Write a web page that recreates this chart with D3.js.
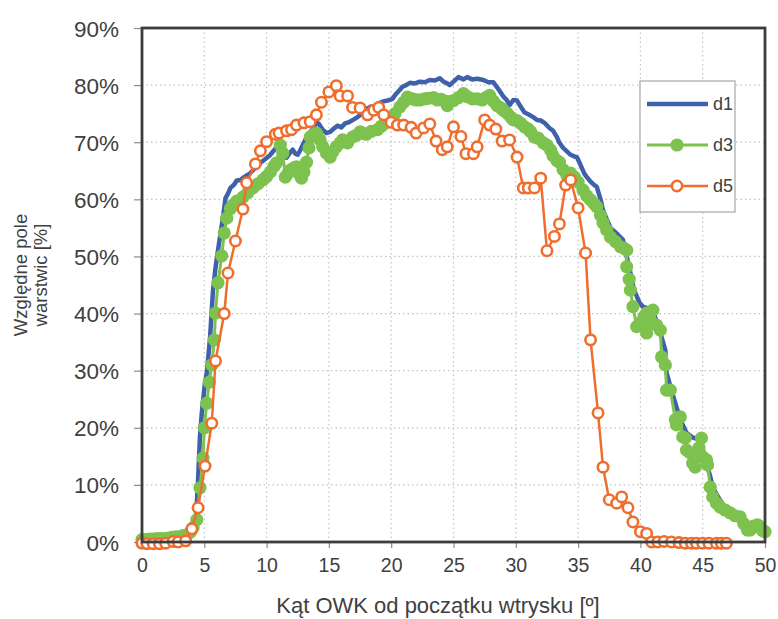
<!DOCTYPE html>
<html>
<head>
<meta charset="utf-8">
<script src="https://cdn.jsdelivr.net/npm/d3@7"></script>
<style>
    body { margin: 0; background: #fff; }
    svg text { font-family: "Liberation Sans", Arial, sans-serif; }
</style>
</head>
<body>
<svg id="chart" width="778" height="619"></svg>
<script>
// DATA
// Angle in degrees and relative area in percent.
var x_ticks = [0, 5, 10, 15, 20, 25, 30, 35, 40, 45, 50];
var y_ticks = [0, 10, 20, 30, 40, 50, 60, 70, 80, 90];
var series_names = ['d1', 'd3', 'd5'];

var d1_angle = [0, 0.5, 1, 1.5, 2, 2.5, 3, 3.5, 4, 4.3, 4.5, 4.65, 4.8, 5.05, 5.2, 5.45, 5.7, 5.9, 6.1, 6.3,
    6.5, 6.7, 6.9, 7.1, 7.4, 7.6, 7.9, 8.2, 8.5, 8.7, 9, 9.3, 9.5, 9.8, 10.1, 10.3, 10.6, 10.8, 11, 11.2,
    11.4, 11.6, 11.9, 12.1, 12.3, 12.5, 12.7, 12.9, 13.2, 13.5, 13.8, 14, 14.2, 14.5, 14.8, 15.1, 15.4, 15.7, 16, 16.3,
    16.6, 17, 17.3, 17.7, 18, 18.3, 18.7, 19, 19.3, 19.7, 20.1, 20.4, 20.7, 20.9, 21.2, 21.5, 21.9, 22.3, 22.7, 23.1,
    23.5, 23.9, 24.2, 24.5, 24.7, 25, 25.4, 25.8, 26.1, 26.5, 26.9, 27.4, 27.8, 28.2, 28.6, 29, 29.3, 29.5, 29.8, 30.1,
    30.4, 30.7, 31, 31.4, 31.7, 32, 32.3, 32.7, 33, 33.3, 33.5, 33.8, 34.1, 34.4, 34.7, 34.9, 35.2, 35.5, 35.7, 36,
    36.3, 36.5, 36.8, 37, 37.3, 37.6, 37.8, 38.2, 38.6, 38.9, 39.2, 39.4, 39.6, 39.9, 40.2, 40.6, 41, 41.3, 41.6, 42,
    42.1, 42.5, 42.9, 43.3, 43.7, 44.2, 44.8, 45.1, 45.3, 45.6, 45.8, 46.2, 46.6, 47, 47.5, 48, 48.5, 49, 49.5, 50];
var d1_value = [0.3, 0.2, 0.4, 0.3, 0.5, 0.4, 0.6, 0.7, 1.2, 2.6, 10.9, 18.4, 22.6, 27.8, 29.6, 35.4, 44.1, 48, 51.1, 54,
    56.9, 60.2, 61, 62, 62.6, 63.3, 63.4, 63.9, 64.3, 64.6, 65.3, 65.8, 66.4, 66.9, 67.4, 67.8, 68.6, 69.2, 69.6, 69.9,
    68.5, 67.3, 68.2, 68.7, 68, 67.8, 68.6, 69.5, 70.8, 71.8, 72.6, 73.5, 73.2, 72.2, 71.6, 71.8, 72.4, 72.9, 72.6, 73.3,
    73.5, 74, 74.4, 75.1, 75.8, 76.2, 76.3, 76.8, 77.1, 77.3, 77.6, 78.5, 79.2, 79.7, 80, 80.4, 80.3, 80.6, 80.5, 80.9,
    80.8, 81.2, 80.6, 80.3, 80, 80.6, 81.4, 81, 81.4, 81, 81.1, 80.9, 80.5, 80.5, 79.3, 78, 77.3, 76.5, 77.4, 77.3,
    76.2, 75.2, 74.9, 74.4, 73.9, 73.8, 73.4, 72.5, 72, 70.9, 69.9, 69, 68.4, 67.8, 67.5, 67.4, 66, 64.5, 63.9, 63.1,
    62.5, 62.2, 60, 58.1, 56.5, 55, 54.6, 53.8, 52.9, 50, 47.1, 45, 43.6, 42, 41.2, 40.9, 40.6, 38.5, 36.6, 33.6,
    29.6, 26.5, 23.6, 21, 19.1, 18.3, 17.9, 15.5, 13.8, 11.5, 9.6, 8, 6.6, 5.6, 4.7, 3.9, 3.4, 3, 2.5, 2.1];

var d3_angle = [0, 0.3, 0.6, 0.9, 1.2, 1.5, 1.8, 2.1, 2.4, 2.7, 3, 3.3, 3.6, 3.9, 4.1, 4.4, 4.65, 4.9, 5, 5.2,
    5.4, 5.6, 5.8, 5.9, 6.1, 6.4, 6.6, 6.8, 7.1, 7.3, 7.6, 8.1, 8.5, 8.9, 9.3, 9.7, 10, 10.3, 10.6, 10.8,
    11.1, 11.3, 11.5, 11.7, 11.9, 12.2, 12.4, 12.6, 12.8, 13, 13.2, 13.4, 13.5, 13.8, 14, 14.3, 14.5, 14.8, 15.1, 15.3,
    15.6, 15.9, 16.1, 16.5, 16.9, 17.2, 17.5, 17.7, 18, 18.4, 18.9, 19.2, 19.5, 19.9, 20.3, 20.7, 21, 21.3, 21.7, 22,
    22.3, 22.7, 23, 23.4, 23.7, 24, 24.3, 24.5, 24.7, 25, 25.4, 25.8, 26.1, 26.5, 26.9, 27.3, 27.6, 27.9, 28.2, 28.5,
    28.8, 29, 29.3, 29.6, 29.8, 30.1, 30.4, 30.7, 31, 31.2, 31.5, 31.8, 32.2, 32.5, 32.8, 33, 33.3, 33.5, 33.8, 34.1,
    34.4, 34.7, 35, 35.4, 35.7, 36, 36.3, 36.5, 36.8, 37, 37.3, 37.6, 38, 38.4, 38.7, 38.9, 38.9, 39.1, 39.2, 39.4,
    39.7, 40, 40.3, 40.5, 40.5, 40.8, 41, 41.3, 41.6, 41.7, 42, 42.1, 42.4, 42.8, 42.9, 43.2, 43.4, 43.6, 43.7, 44,
    44.2, 44.4, 44.7, 44.9, 45, 45.3, 45.4, 45.6, 45.8, 46.1, 46.4, 46.8, 47.2, 47.6, 48, 48.3, 48.6, 48.8, 49.1, 49.4,
    49.6, 49.8, 50];
var d3_value = [0.4, 0.4, 0.5, 0.5, 0.6, 0.6, 0.6, 0.7, 0.8, 0.9, 0.9, 1.1, 1.2, 1.8, 2.5, 3.9, 9.5, 14.7, 20, 24.3,
    28, 31, 35.4, 40.1, 45.4, 50.1, 54.1, 56.7, 58.4, 59, 59.7, 60.4, 61.2, 62, 62.7, 63.4, 64, 64.8, 65.8, 66.4,
    69.5, 68.1, 63.9, 64.5, 65.1, 65.5, 65.7, 64.5, 63.7, 64.8, 66.5, 69, 70.9, 71.4, 71.6, 70.4, 69.2, 68.1, 67.4, 68.3,
    69.2, 69.9, 70.4, 69.9, 70.9, 71.2, 71.8, 71.6, 71.4, 71.9, 72.2, 72.8, 73.3, 73.9, 75, 76.2, 77, 77.9, 77.6, 77.4,
    77.4, 77.6, 77.7, 77.8, 77.4, 77.5, 77.2, 76.4, 77.1, 77.3, 77.8, 78.5, 78, 77.6, 77.6, 77.4, 77.8, 78.2, 77.2, 76.4,
    76, 75.6, 75.1, 74.4, 73.9, 73.8, 73.3, 72.7, 72.3, 71.8, 70.9, 70.7, 69.9, 69.5, 68.6, 67.6, 66.8, 66.5, 65.2, 64.2,
    64.6, 63.9, 63, 61.6, 60.6, 59.9, 59.2, 58.7, 57.2, 55.9, 54.6, 53.4, 52.6, 51.7, 51.4, 51.1, 48.2, 46, 44.1, 41.2,
    37.7, 38.4, 39.5, 40.1, 36.6, 38.3, 40.6, 38, 37.1, 32.4, 31, 26.6, 26.6, 21.4, 20.5, 21.9, 18.4, 18.2, 16.1, 15.6,
    13.8, 13.1, 16.5, 18.2, 14.9, 14.4, 13.5, 9.6, 7.9, 6.8, 6.1, 5.6, 5.1, 4.6, 4.4, 3.2, 2.1, 2.1, 2.8, 3,
    2.6, 2, 1.8];

var d5_angle = [0, 0.4, 0.9, 1.4, 1.9, 2.5, 2.9, 3.5, 4, 4.5, 5.06, 5.6, 5.9, 6.6, 6.9, 7.5, 8.1, 8.4, 9.1, 9.5,
    10, 10.7, 11, 11.6, 12, 12.4, 13, 13.5, 14, 14.4, 15, 15.6, 15.9, 16.5, 16.9, 17.5, 18.1, 18.6, 19, 19.4,
    20, 20.5, 21, 21.6, 22, 22.6, 23.1, 23.6, 24.1, 24.5, 25, 25.6, 26, 26.6, 26.9, 27.5, 27.9, 28.4, 28.9, 29.5,
    30.1, 30.6, 31, 31.5, 32, 32.5, 33.1, 33.5, 34, 34.4, 35, 35.6, 36, 36.6, 37, 37.5, 38.1, 38.5, 39, 39.4,
    40, 40.5, 40.9, 41.4, 41.9, 42.5, 43.1, 43.6, 44.1, 44.5, 45, 45.5, 46.1, 46.5, 46.9];
var d5_value = [-0.2, -0.3, -0.3, -0.3, -0.2, 0.1, 0, 0.2, 2.3, 6, 13.3, 20.8, 31.7, 40, 47.1, 52.7, 58.3, 62.9, 66.2, 68.5,
    70.1, 71.4, 71.6, 72, 72.2, 73, 73.4, 73.6, 74.8, 77, 78.8, 79.9, 78.1, 78.1, 76.1, 76, 74.8, 75.6, 76.1, 74.8,
    73.5, 73, 73, 72.6, 71.6, 72.5, 73.2, 70.2, 68.7, 69.2, 72.7, 71, 68, 68, 69.2, 73.9, 73, 72.3, 70.2, 70.4,
    67.4, 62, 62, 62, 63.7, 51, 53.5, 55.7, 62.5, 63.4, 58.5, 50.6, 35.4, 22.6, 13.1, 7.4, 6.8, 7.9, 6, 3.5,
    1.8, 1.5, 0, 0, 0.1, 0, -0.1, -0.2, -0.2, -0.2, -0.2, -0.2, -0.2, -0.2, -0.2];

// CHART
var chrt = {
    config: {
        left: 142, top: 28, width: 623, height: 514,
        colors: { d1: '#3f60ab', d3: '#7dc24e', d5: '#ef6e2e' },
        green_r: 6.6, orange_r: 5.2
    },
    to_points: function(angles, values) {
        return angles.map(function(a, i) { return { x: a, y: values[i] }; });
    },
    build_chart: function() {
        var c = this.config;
        var svg = d3.select('svg#chart');
        var x = d3.scaleLinear().domain([0, 50]).range([0, c.width]);
        var y = d3.scaleLinear().domain([0, 90]).range([c.height, 0]);

        var g = svg.append('g')
            .attr('transform', 'translate(' + c.left + ',' + c.top + ')');

        // Dotted grid
        g.append('g')
            .selectAll('line')
            .data(x_ticks.slice(1, -1))
            .join('line')
                .attr('x1', function(d) { return x(d); })
                .attr('x2', function(d) { return x(d); })
                .attr('y1', 0).attr('y2', c.height)
                .attr('stroke', '#c4c4c4').attr('stroke-width', 1.2)
                .attr('stroke-dasharray', '1.5,3');
        g.append('g')
            .selectAll('line')
            .data(y_ticks.slice(1, -1))
            .join('line')
                .attr('y1', function(d) { return y(d); })
                .attr('y2', function(d) { return y(d); })
                .attr('x1', 0).attr('x2', c.width)
                .attr('stroke', '#c4c4c4').attr('stroke-width', 1.2)
                .attr('stroke-dasharray', '1.5,3');

        // Axes
        var x_axis = g.append('g')
            .attr('transform', 'translate(0,' + c.height + ')')
            .call(d3.axisBottom(x).tickValues(x_ticks).tickSize(6).tickPadding(10));
        var y_axis = g.append('g')
            .call(d3.axisLeft(y).tickValues(y_ticks).tickSize(8).tickPadding(15)
                .tickFormat(function(d) { return d + '%'; }));
        [x_axis, y_axis].forEach(function(a) {
            a.select('.domain').remove();
            a.selectAll('.tick line').attr('stroke', '#8c8c8c').attr('stroke-width', 1.2);
            a.selectAll('.tick text').attr('fill', '#404040')
                .style('font-family', '"Liberation Sans", Arial, sans-serif');
        });
        x_axis.selectAll('.tick text').style('font-size', '19.5px');
        y_axis.selectAll('.tick text').style('font-size', '22.5px').attr('dy', '0.36em');

        // Series
        var line = d3.line()
            .x(function(d) { return x(d.x); })
            .y(function(d) { return y(d.y); });

        var p1 = this.to_points(d1_angle, d1_value);
        var p3 = this.to_points(d3_angle, d3_value);
        var p5 = this.to_points(d5_angle, d5_value);

        g.append('path')
            .datum(p1)
            .attr('fill', 'none').attr('stroke', c.colors.d1)
            .attr('stroke-width', 4.5).attr('stroke-linejoin', 'round')
            .attr('d', line);

        g.append('path')
            .datum(p3)
            .attr('fill', 'none').attr('stroke', c.colors.d3)
            .attr('stroke-width', 3).attr('stroke-linejoin', 'round')
            .attr('d', line);
        g.append('g')
            .selectAll('circle')
            .data(p3)
            .join('circle')
                .attr('cx', function(d) { return x(d.x); })
                .attr('cy', function(d) { return y(d.y); })
                .attr('r', c.green_r)
                .attr('fill', c.colors.d3);

        g.append('path')
            .datum(p5)
            .attr('fill', 'none').attr('stroke', c.colors.d5)
            .attr('stroke-width', 2.5).attr('stroke-linejoin', 'round')
            .attr('d', line);
        g.append('g')
            .selectAll('circle')
            .data(p5)
            .join('circle')
                .attr('cx', function(d) { return x(d.x); })
                .attr('cy', function(d) { return y(d.y); })
                .attr('r', c.orange_r)
                .attr('fill', '#fff')
                .attr('stroke', c.colors.d5).attr('stroke-width', 2.6);

        // Plot frame on top
        g.append('rect')
            .attr('width', c.width).attr('height', c.height)
            .attr('fill', 'none').attr('stroke', '#3d3d3d').attr('stroke-width', 2.8);

        // Axis titles
        svg.append('text')
            .attr('x', 438).attr('y', 613)
            .attr('text-anchor', 'middle')
            .attr('fill', '#404040').style('font-size', '22px')
            .text('Kąt OWK od początku wtrysku [º]');

        var yt = svg.append('text')
            .attr('transform', 'translate(27,275) rotate(-90)')
            .attr('text-anchor', 'middle')
            .attr('fill', '#404040').style('font-size', '18.5px');
        yt.append('tspan').attr('x', 0).attr('y', 0).text('Względne pole');
        yt.append('tspan').attr('x', 0).attr('y', 20).text('warstwic [%]');

        // Legend
        var lg = svg.append('g').attr('transform', 'translate(640,81)');
        lg.append('rect')
            .attr('width', 95).attr('height', 131)
            .attr('fill', '#fff').attr('stroke', '#a6a6a6').attr('stroke-width', 1.2);
        series_names.forEach(function(name, i) {
            var ly = 23 + i * 41;
            var row = lg.append('g').attr('transform', 'translate(0,' + ly + ')');
            row.append('line')
                .attr('x1', 7).attr('x2', 68).attr('y1', 0).attr('y2', 0)
                .attr('stroke', c.colors[name])
                .attr('stroke-width', name == 'd1' ? 4.5 : (name == 'd3' ? 3 : 2.5));
            if ( name == 'd3' ) {
                row.append('circle').attr('cx', 37).attr('cy', 0).attr('r', c.green_r).attr('fill', c.colors.d3);
            }
            else if ( name == 'd5' ) {
                row.append('circle').attr('cx', 37).attr('cy', 0).attr('r', c.orange_r)
                    .attr('fill', '#fff').attr('stroke', c.colors.d5).attr('stroke-width', 2.6);
            }
            row.append('text')
                .attr('x', 73).attr('y', 0).attr('dy', '0.36em')
                .attr('fill', '#404040').style('font-size', '18px')
                .text(name);
        });
    },
    init: function() {
        chrt.build_chart();
    }
}

chrt.init();
</script>
</body>
</html>
